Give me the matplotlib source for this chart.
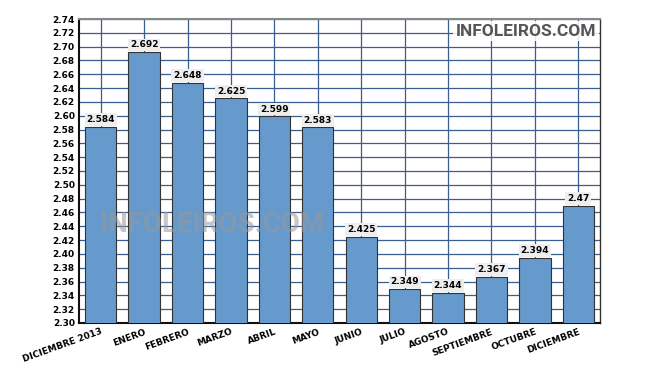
import matplotlib
matplotlib.use("Agg")
import matplotlib.pyplot as plt

meses = ["DICIEMBRE 2013", "ENERO", "FEBRERO", "MARZO", "ABRIL", "MAYO",
         "JUNIO", "JULIO", "AGOSTO", "SEPTIEMBRE", "OCTUBRE", "DICIEMBRE"]
valores = [2.584, 2.692, 2.648, 2.625, 2.599, 2.583,
           2.425, 2.349, 2.344, 2.367, 2.394, 2.47]
etiquetas = ["2.584", "2.692", "2.648", "2.625", "2.599", "2.583",
             "2.425", "2.349", "2.344", "2.367", "2.394", "2.47"]
yticks = [2.30 + 0.02 * i for i in range(23)]

fig = plt.figure(figsize=(6.55, 3.75), dpi=100)
ax = fig.add_axes([79/655, 1 - 323/375, (600-79)/655, (323-19)/375])

x = range(len(meses))
ax.bar(x, valores, width=0.72, color="#6699cc", edgecolor="#333333", linewidth=0.8, zorder=3)
ax.set_xlim(-0.5, len(meses) - 0.5)
ax.set_ylim(2.30, 2.74)
ax.set_yticks(yticks)
ax.set_yticklabels(["%.2f" % v for v in yticks], fontsize=6.5, fontweight="bold")
ax.set_xticks(list(x))
ax.set_xticklabels(meses, rotation=20, ha="right", rotation_mode="anchor",
                   fontsize=6.5, fontweight="bold")
ax.tick_params(length=0, pad=3)
ax.grid(True, color="#3a5f8f", linewidth=0.9, zorder=0)

for s in ["left", "bottom"]:
    ax.spines[s].set_color("#111111")
    ax.spines[s].set_linewidth(1.5)
ax.spines["top"].set_color("#888888")
ax.spines["top"].set_linewidth(1.5)
ax.spines["right"].set_color("#333333")
ax.spines["right"].set_linewidth(1.0)

for i, (v, t) in enumerate(zip(valores, etiquetas)):
    ax.text(i, v + 0.004, t, ha="center", va="bottom", fontsize=6.5, fontweight="bold",
            zorder=5, bbox=dict(boxstyle="square,pad=0.2", fc="#eeeeee", ec="none"))

fig.text(526/655, 1 - 31/375, "INFOLEIROS.COM", ha="center", va="center",
         fontsize=12.5, fontweight="bold", family="Roboto", color="#555555", zorder=10,
         bbox=dict(boxstyle="square,pad=0.15", fc="white", ec="none", alpha=0.85))
fig.text(212/655, 1 - 225/375, "INFOLEIROS.COM", ha="center", va="center",
         fontsize=20, fontweight="bold", family="Roboto", color="#999999", alpha=0.55, zorder=10)

fig.savefig("out.png", dpi=100)
